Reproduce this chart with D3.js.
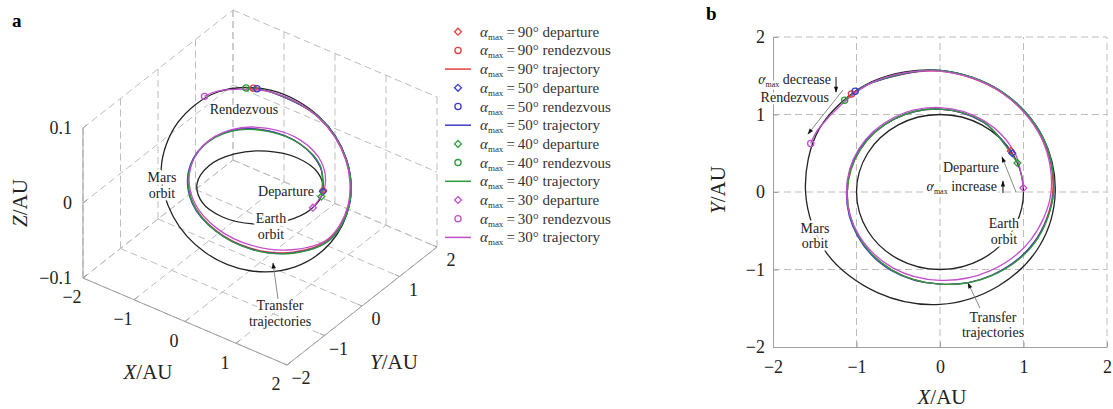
<!DOCTYPE html>
<html>
<head>
<meta charset="utf-8">
<title>Earth-Mars transfer trajectories</title>
<script src="https://cdn.jsdelivr.net/npm/d3@7"></script>
<style>
  body { margin: 0; background: #fff; }
  #chart { display: block; font-family: "Liberation Serif", "Times New Roman", serif; }
  .grid { fill: none; stroke: #bdbdbd; stroke-width: 1; stroke-dasharray: 7 4; }
  .axis-line { fill: none; stroke: #a0a0a0; stroke-width: 1; }
  .tick text, .tick-label { font-size: 18px; fill: #222; font-family: "Liberation Serif", serif; }
  .tick line, .domain { stroke: #a0a0a0; }
  .title { font-size: 21px; fill: #222; }
  .note { font-size: 14px; fill: #222; }
  .halo { stroke: #fff; stroke-width: 5px; stroke-linejoin: round; paint-order: stroke; }
  .orbit { fill: none; stroke: #222; stroke-width: 1.3; }
  .traj { fill: none; stroke-width: 1.3; }
</style>
</head>
<body>
<svg id="chart" width="1113" height="409"></svg>
<script>
// tick values
const axisTicks = [-2, -1, 0, 1, 2];
const zTicks = [-0.1, 0, 0.1];

// samples: [polar angle in XY plane (deg), radius (AU), Z (AU)]
const earthOrbit = [[0,1,0],[30,1,0],[60,1,0],[90,1,0],[120,1,0],[150,1,0],
                    [180,1,0],[210,1,0],[240,1,0],[270,1,0],[300,1,0],[330,1,0]];
const marsOrbit = [[0,1.38,-0.034],[30,1.42,-0.015],[60,1.49,0.009],[90,1.57,0.033],
                   [120,1.64,0.050],[150,1.66,0.053],[180,1.61,0.040],[210,1.57,0.017],
                   [240,1.50,-0.009],[270,1.45,-0.030],[300,1.40,-0.043],[330,1.38,-0.044]];

// transfer trajectories, first point = departure, last point = rendezvous
const traj90 = [[32,1.00,0.000],[60,1.04,0.007],[90,1.07,0.016],[120,1.09,0.023],[150,1.10,0.027],
                [180,1.11,0.024],[210,1.13,0.015],[240,1.16,0.003],[270,1.19,-0.010],[300,1.24,-0.021],
                [330,1.30,-0.028],[360,1.35,-0.030],[390,1.41,-0.016],[420,1.48,0.008],[450,1.56,0.032],
                [480,1.63,0.048],[490,1.65,0.052]];
const traj50 = [[30,1.00,0.000],[60,1.04,0.007],[90,1.07,0.016],[120,1.09,0.023],[150,1.11,0.026],
                [180,1.12,0.023],[210,1.14,0.014],[240,1.17,0.002],[270,1.19,-0.011],[300,1.24,-0.022],
                [330,1.30,-0.029],[360,1.36,-0.031],[390,1.42,-0.016],[420,1.49,0.008],[450,1.57,0.032],
                [480,1.63,0.048],[488,1.65,0.051]];
const traj40 = [[22,1.00,0.000],[60,1.045,0.008],[90,1.07,0.016],[120,1.09,0.022],[150,1.10,0.026],
                [180,1.11,0.023],[210,1.13,0.014],[240,1.16,0.002],[270,1.19,-0.011],[300,1.245,-0.022],
                [330,1.31,-0.029],[360,1.36,-0.031],[390,1.42,-0.016],[420,1.49,0.008],[450,1.57,0.032],
                [480,1.63,0.048],[494,1.645,0.053]];
const traj30 = [[3,1.00,0.000],[30,1.03,0.006],[60,1.06,0.013],[90,1.09,0.020],[120,1.11,0.025],
                [150,1.12,0.027],[180,1.12,0.023],[210,1.12,0.013],[240,1.13,0.002],[270,1.14,-0.010],
                [300,1.18,-0.020],[330,1.25,-0.027],[360,1.33,-0.030],[390,1.40,-0.016],[420,1.48,0.008],
                [450,1.56,0.032],[480,1.63,0.048],[510,1.665,0.054],[518,1.67,0.052]];

const seriesLabels = ["90", "50", "40", "30"];
const seriesColors = ["#e2403c", "#3b3bcc", "#2e9b3b", "#c24fcf"];
const trajectories = [traj90, traj50, traj40, traj30];
const legendKinds = ["departure", "rendezvous", "trajectory"];

const svg = d3.select("#chart");
const fmt = d3.format("~g");

function toXYZ(p) {
  const t = p[0] * Math.PI / 180;
  return [p[1] * Math.cos(t), p[1] * Math.sin(t), p[2]];
}

const openLine = d3.line().curve(d3.curveCatmullRom.alpha(0.5));
const closedLine = d3.line().curve(d3.curveCatmullRomClosed.alpha(0.5));
const symDep = d3.symbol().type(d3.symbolDiamond2).size(30);
const symRen = d3.symbol().type(d3.symbolCircle).size(30);

// arrow head
svg.append("defs").append("marker")
    .attr("id", "head")
    .attr("viewBox", "0 0 10 10")
    .attr("refX", 9).attr("refY", 5)
    .attr("markerWidth", 7).attr("markerHeight", 6)
    .attr("orient", "auto")
  .append("path")
    .attr("d", "M0,1.5L10,5L0,8.5Z")
    .attr("fill", "#111");

function drawArrow(g, p1, p2, color) {
  g.append("line")
    .attr("x1", p1[0]).attr("y1", p1[1])
    .attr("x2", p2[0]).attr("y2", p2[1])
    .attr("stroke", color).attr("stroke-width", 1)
    .attr("marker-end", "url(#head)");
}

function drawNote(g, lines, x, y, anchor) {
  lines.forEach((s, k) => {
    g.append("text").attr("class", "note halo")
      .attr("x", x).attr("y", y + k * 15.5)
      .attr("text-anchor", anchor || "middle")
      .text(s);
  });
}

function alphaNote(g, rest, x, y, anchor) {
  const t = g.append("text").attr("class", "note halo")
    .attr("x", x).attr("y", y).attr("text-anchor", anchor);
  t.append("tspan").attr("font-style", "italic").text("\u03b1");
  t.append("tspan").attr("font-size", 8).attr("dy", 3).text("max");
  t.append("tspan").attr("dy", -3).text(" " + rest);
}

// ---------------- panel a : 3D view ----------------
const ga = svg.append("g");
const sx3 = d3.scaleLinear().domain([-2, 2]).range([0, 1]);
const sy3 = d3.scaleLinear().domain([-2, 2]).range([0, 1]);
const sz3 = d3.scaleLinear().domain([-0.1, 0.1]).range([0, 1]);
const origin3 = [83, 278], ex = [204, 87], ey = [150, -118], ez = [0, -150];

function proj(q) {
  const a = sx3(q[0]), b = sy3(q[1]), c = sz3(q[2]);
  return [origin3[0] + a * ex[0] + b * ey[0] + c * ez[0],
          origin3[1] + a * ex[1] + b * ey[1] + c * ez[1]];
}

// grid on the floor and the two back walls
const grid3 = [];
axisTicks.forEach(v => {
  grid3.push([[v, -2, -0.1], [v, 2, -0.1]]);
  grid3.push([[-2, v, -0.1], [2, v, -0.1]]);
  grid3.push([[v, 2, -0.1], [v, 2, 0.1]]);
  grid3.push([[-2, v, -0.1], [-2, v, 0.1]]);
});
zTicks.forEach(z => {
  grid3.push([[-2, 2, z], [2, 2, z]]);
  grid3.push([[-2, -2, z], [-2, 2, z]]);
});
ga.selectAll(".g3").data(grid3).join("path")
  .attr("class", "grid")
  .attr("d", d => d3.line()(d.map(proj)));

// axis lines
const axes3 = [[[-2, -2, -0.1], [-2, -2, 0.1]], [[-2, -2, -0.1], [2, -2, -0.1]], [[2, -2, -0.1], [2, 2, -0.1]]];
ga.selectAll(".a3").data(axes3).join("path")
  .attr("class", "axis-line")
  .attr("d", d => d3.line()(d.map(proj)));

// ticks
const tickLen = 5;
const uy = [ey[0] / Math.hypot(...ey), ey[1] / Math.hypot(...ey)];
const ux = [ex[0] / Math.hypot(...ex), ex[1] / Math.hypot(...ex)];
zTicks.forEach(z => {
  const p = proj([-2, -2, z]);
  ga.append("line").attr("class", "axis-line")
    .attr("x1", p[0]).attr("y1", p[1]).attr("x2", p[0] + uy[0] * tickLen).attr("y2", p[1] + uy[1] * tickLen);
  ga.append("text").attr("class", "tick-label")
    .attr("x", p[0] - 11).attr("y", p[1]).attr("dy", "0.35em")
    .attr("text-anchor", "end").text(fmt(z));
});
axisTicks.forEach(v => {
  const p = proj([v, -2, -0.1]);
  ga.append("line").attr("class", "axis-line")
    .attr("x1", p[0]).attr("y1", p[1]).attr("x2", p[0] + uy[0] * tickLen).attr("y2", p[1] + uy[1] * tickLen);
  ga.append("text").attr("class", "tick-label")
    .attr("x", p[0] - 11).attr("y", p[1] + 19).attr("dy", "0.35em")
    .attr("text-anchor", "middle").text(fmt(v));
  const q = proj([2, v, -0.1]);
  ga.append("line").attr("class", "axis-line")
    .attr("x1", q[0]).attr("y1", q[1]).attr("x2", q[0] - ux[0] * tickLen).attr("y2", q[1] - ux[1] * tickLen);
  ga.append("text").attr("class", "tick-label")
    .attr("x", q[0] + 14).attr("y", q[1] + 13).attr("dy", "0.35em")
    .attr("text-anchor", "middle").text(fmt(v));
});

// axis titles
function axisTitle(g, letter, x, y, rot) {
  const t = g.append("text").attr("class", "title")
    .attr("text-anchor", "middle")
    .attr("transform", `translate(${x},${y}) rotate(${rot || 0})`);
  t.append("tspan").attr("font-style", "italic").text(letter);
  t.append("tspan").text("/AU");
}
axisTitle(ga, "Z", 27, 203, -90);
axisTitle(ga, "X", 148, 379);
axisTitle(ga, "Y", 394, 369);

ga.append("text").attr("x", 12).attr("y", 27)
  .attr("font-size", 19).attr("font-weight", "bold").text("a");

// orbits and trajectories
ga.append("path").attr("class", "orbit").attr("d", closedLine(earthOrbit.map(p => proj(toXYZ(p)))));
ga.append("path").attr("class", "orbit").attr("d", closedLine(marsOrbit.map(p => proj(toXYZ(p)))));

// notes panel a
drawNote(ga, ["Rendezvous"], 244, 114);
drawNote(ga, ["Mars", "orbit"], 162, 182);
drawNote(ga, ["Earth", "orbit"], 271, 223);
drawNote(ga, ["Transfer", "trajectories"], 280, 310);
drawArrow(ga, [278, 299], [273, 263], "#8a8a8a");

trajectories.forEach((tr, i) => {
  ga.append("path").attr("class", "traj")
    .attr("stroke", seriesColors[i])
    .attr("d", openLine(tr.map(p => proj(toXYZ(p)))));
});
drawNote(ga, ["Departure"], 286, 196);
trajectories.forEach((tr, i) => {
  const d0 = proj(toXYZ(tr[0])), d1 = proj(toXYZ(tr[tr.length - 1]));
  ga.append("path").attr("d", symDep()).attr("transform", `translate(${d0})`)
    .attr("fill", "none").attr("stroke", seriesColors[i]).attr("stroke-width", 1.3);
  ga.append("path").attr("d", symRen()).attr("transform", `translate(${d1})`)
    .attr("fill", "none").attr("stroke", seriesColors[i]).attr("stroke-width", 1.3);
});

// ---------------- legend ----------------
const legend = svg.append("g");
const rowH = 18.7, row0 = 31.7;
seriesLabels.forEach((s, i) => {
  legendKinds.forEach((kind, j) => {
    const y = row0 + (i * 3 + j) * rowH;
    if (kind === "trajectory") {
      legend.append("line").attr("x1", 445).attr("x2", 471).attr("y1", y).attr("y2", y)
        .attr("stroke", seriesColors[i]).attr("stroke-width", 1.5);
    } else {
      legend.append("path").attr("d", kind === "departure" ? symDep() : symRen())
        .attr("transform", `translate(458,${y})`)
        .attr("fill", "none").attr("stroke", seriesColors[i]).attr("stroke-width", 1.3);
    }
    const t = legend.append("text").attr("x", 480).attr("y", y + 5)
      .attr("font-size", 15).attr("fill", "#333");
    t.append("tspan").attr("font-style", "italic").text("\u03b1");
    t.append("tspan").attr("font-size", 9).attr("dy", 3).text("max");
    t.append("tspan").attr("dy", -3).text(`\u2009=\u2009${s}\u00b0 ${kind}`);
  });
});

// ---------------- panel b : XY projection ----------------
const gb = svg.append("g");
const xb = d3.scaleLinear().domain([-2, 2]).range([773, 1107]);
const yb = d3.scaleLinear().domain([-2, 2]).range([347, 37]);
const toB = p => { const q = toXYZ(p); return [xb(q[0]), yb(q[1])]; };

gb.selectAll(".vg").data(axisTicks.slice(1)).join("line")
  .attr("class", "grid")
  .attr("x1", d => xb(d)).attr("x2", d => xb(d))
  .attr("y1", yb(-2)).attr("y2", yb(2));
gb.selectAll(".hg").data(axisTicks.slice(1)).join("line")
  .attr("class", "grid")
  .attr("y1", d => yb(d)).attr("y2", d => yb(d))
  .attr("x1", xb(-2)).attr("x2", xb(2));

gb.append("g").attr("transform", `translate(0,${yb(-2)})`)
  .attr("font-family", "Liberation Serif").attr("font-size", 18)
  .call(d3.axisBottom(xb).tickValues(axisTicks).tickFormat(fmt)
    .tickSizeInner(-5).tickSizeOuter(0).tickPadding(13));
gb.append("g").attr("transform", `translate(${xb(-2)},0)`)
  .attr("font-family", "Liberation Serif").attr("font-size", 18)
  .call(d3.axisLeft(yb).tickValues(axisTicks).tickFormat(fmt)
    .tickSizeInner(-5).tickSizeOuter(0).tickPadding(8));
gb.selectAll(".tick text").attr("font-family", "Liberation Serif");

axisTitle(gb, "X", 942, 404);
axisTitle(gb, "Y", 725, 190, -90);
gb.append("text").attr("x", 706).attr("y", 20)
  .attr("font-size", 19).attr("font-weight", "bold").text("b");

gb.append("path").attr("class", "orbit").attr("d", closedLine(earthOrbit.map(toB)));
gb.append("path").attr("class", "orbit").attr("d", closedLine(marsOrbit.map(toB)));

// notes panel b (positions in AU)
drawNote(gb, ["Mars", "orbit"], xb(-1.497), yb(-0.529));
drawNote(gb, ["Earth", "orbit"], xb(0.766), yb(-0.465));
drawNote(gb, ["Transfer", "trajectories"], xb(0.635), yb(-1.677));
drawNote(gb, ["Departure"], xb(0.371), yb(0.258));
drawNote(gb, ["Rendezvous"], xb(-1.329), yb(1.161), "end");
alphaNote(gb, "decrease", xb(-1.305), yb(1.394), "end");
alphaNote(gb, "increase", xb(0.683), yb(0.013), "end");

const pb = (x, y) => [xb(x), yb(y)];
drawArrow(gb, pb(-1.245, 1.484), pb(-1.245, 1.290), "#111");
drawArrow(gb, pb(-1.162, 1.316), pb(-1.581, 0.748), "#8a8a8a");
drawArrow(gb, pb(0.754, -0.013), pb(0.754, 0.142), "#111");
drawArrow(gb, pb(0.910, 0.0), pb(0.743, 0.452), "#8a8a8a");
drawArrow(gb, pb(0.479, -1.497), pb(0.335, -1.174), "#8a8a8a");

trajectories.forEach((tr, i) => {
  gb.append("path").attr("class", "traj")
    .attr("stroke", seriesColors[i])
    .attr("d", openLine(tr.map(toB)));
});
trajectories.forEach((tr, i) => {
  gb.append("path").attr("d", symDep()).attr("transform", `translate(${toB(tr[0])})`)
    .attr("fill", "none").attr("stroke", seriesColors[i]).attr("stroke-width", 1.3);
  gb.append("path").attr("d", symRen()).attr("transform", `translate(${toB(tr[tr.length - 1])})`)
    .attr("fill", "none").attr("stroke", seriesColors[i]).attr("stroke-width", 1.3);
});
</script>
</body>
</html>
